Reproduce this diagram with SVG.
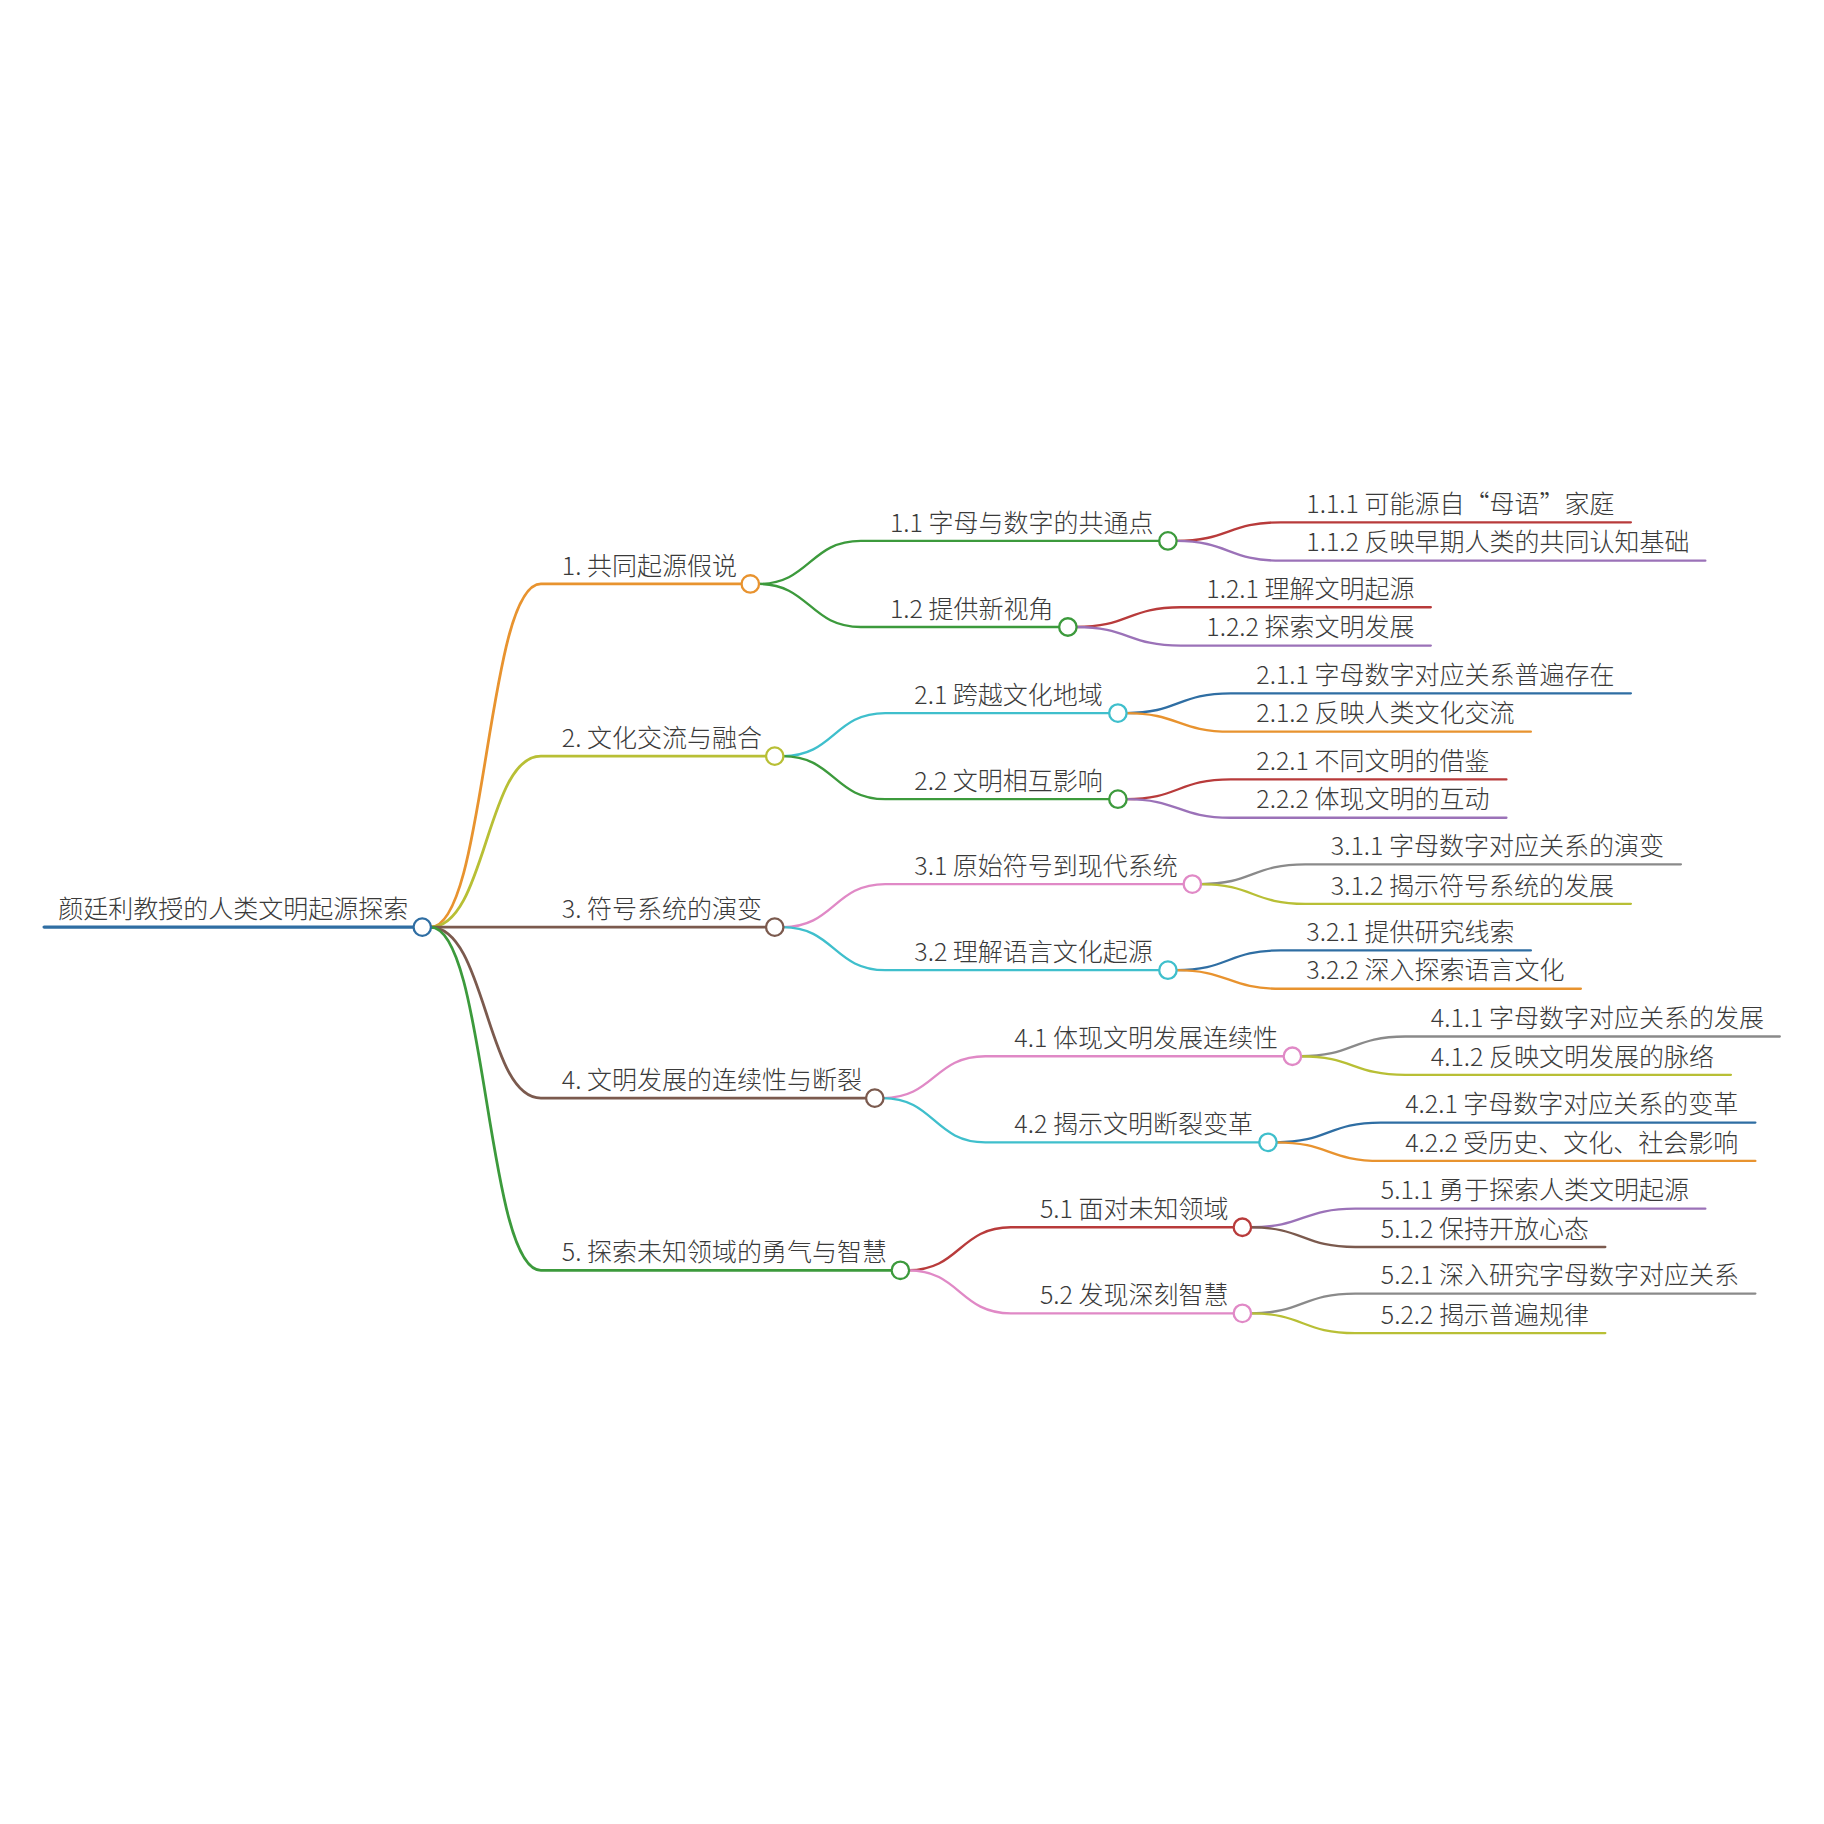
<svg xmlns="http://www.w3.org/2000/svg" width="1824" height="1824" viewBox="0 0 1824 1824">
<style>
text{font-family:"Noto Sans CJK SC","Noto Sans",sans-serif;font-size:21.5px;font-weight:300;fill:#3a3a3a}
.c{fill:none;stroke-width:2;stroke-linecap:round}
.r{stroke-width:3}
.l1{stroke-width:2.4}
.n{fill:#fff;stroke-width:2}
.bl{stroke:#2f6ea3}.or{stroke:#e8932f}.yg{stroke:#b8bf35}.br{stroke:#7b5a4e}.gn{stroke:#3c9a3c}
.cy{stroke:#3fbfcc}.pk{stroke:#e089c6}.rd{stroke:#b83b3b}.pu{stroke:#9b72b8}.gy{stroke:#8a8a8a}
</style>
<rect width="1824" height="1824" fill="#fff"/>
<g transform="scale(1.163265)">
<g id="connectors">
<path class="c r bl" d="M38 797H356"/>
<path class="c l1 or" d="M370 797C418 797 418 502 465 502H638"/>
<path class="c l1 yg" d="M370 797C418 797 418 650 465 650H659"/>
<path class="c l1 br" d="M370 797H659"/>
<path class="c l1 br" d="M370 797C418 797 418 944 465 944H745"/>
<path class="c l1 gn" d="M370 797C418 797 418 1092 465 1092H767"/>
<path class="c gn" d="M652 502C696 502 696 465 740 465H997"/>
<path class="c gn" d="M652 502C696 502 696 539 740 539H911"/>
<path class="c cy" d="M673 650C717 650 717 613 761 613H954"/>
<path class="c gn" d="M673 650C717 650 717 687 761 687H954"/>
<path class="c pk" d="M673 797C717 797 717 760 761 760H1018"/>
<path class="c cy" d="M673 797C717 797 717 834 761 834H997"/>
<path class="c pk" d="M759 944C803 944 803 908 847 908H1104"/>
<path class="c cy" d="M759 944C803 944 803 982 847 982H1083"/>
<path class="c rd" d="M781 1092C825 1092 825 1055 869 1055H1061"/>
<path class="c pk" d="M781 1092C825 1092 825 1129 869 1129H1061"/>
<path class="c rd" d="M1011 465C1056 465 1056 449 1101 449H1402"/>
<path class="c pu" d="M1011 465C1056 465 1056 482 1101 482H1466"/>
<path class="c rd" d="M925 539C970 539 970 522 1015 522H1230"/>
<path class="c pu" d="M925 539C970 539 970 555 1015 555H1230"/>
<path class="c bl" d="M968 613C1013 613 1013 596 1058 596H1402"/>
<path class="c or" d="M968 613C1013 613 1013 629 1058 629H1316"/>
<path class="c rd" d="M968 687C1013 687 1013 670 1058 670H1295"/>
<path class="c pu" d="M968 687C1013 687 1013 703 1058 703H1295"/>
<path class="c gy" d="M1032 760C1077 760 1077 743 1122 743H1445"/>
<path class="c yg" d="M1032 760C1077 760 1077 777 1122 777H1402"/>
<path class="c bl" d="M1011 834C1056 834 1056 817 1101 817H1316"/>
<path class="c or" d="M1011 834C1056 834 1056 850 1101 850H1359"/>
<path class="c gy" d="M1118 908C1163 908 1163 891 1208 891H1530"/>
<path class="c yg" d="M1118 908C1163 908 1163 924 1208 924H1488"/>
<path class="c bl" d="M1097 982C1142 982 1142 965 1187 965H1509"/>
<path class="c or" d="M1097 982C1142 982 1142 998 1187 998H1509"/>
<path class="c pu" d="M1075 1055C1120 1055 1120 1039 1165 1039H1466"/>
<path class="c br" d="M1075 1055C1120 1055 1120 1072 1165 1072H1380"/>
<path class="c gy" d="M1075 1129C1120 1129 1120 1112 1165 1112H1509"/>
<path class="c yg" d="M1075 1129C1120 1129 1120 1146 1165 1146H1380"/>
</g>
<g id="root"><text x="50" y="789">颜廷利教授的人类文明起源探索</text><circle class="n bl" cx="363" cy="797" r="7.5"/></g>
<g id="n1"><text x="483" y="494">1. 共同起源假说</text><circle class="n or" cx="645" cy="502" r="7.5"/></g>
<g id="n2"><text x="483" y="642">2. 文化交流与融合</text><circle class="n yg" cx="666" cy="650" r="7.5"/></g>
<g id="n3"><text x="483" y="789">3. 符号系统的演变</text><circle class="n br" cx="666" cy="797" r="7.5"/></g>
<g id="n4"><text x="483" y="936">4. 文明发展的连续性与断裂</text><circle class="n br" cx="752" cy="944" r="7.5"/></g>
<g id="n5"><text x="483" y="1084">5. 探索未知领域的勇气与智慧</text><circle class="n gn" cx="774" cy="1092" r="7.5"/></g>
<g id="n1_1"><text x="765" y="457">1.1 字母与数字的共通点</text><circle class="n gn" cx="1004" cy="465" r="7.5"/></g>
<g id="n1_2"><text x="765" y="531">1.2 提供新视角</text><circle class="n gn" cx="918" cy="539" r="7.5"/></g>
<g id="n2_1"><text x="786" y="605">2.1 跨越文化地域</text><circle class="n cy" cx="961" cy="613" r="7.5"/></g>
<g id="n2_2"><text x="786" y="679">2.2 文明相互影响</text><circle class="n gn" cx="961" cy="687" r="7.5"/></g>
<g id="n3_1"><text x="786" y="752">3.1 原始符号到现代系统</text><circle class="n pk" cx="1025" cy="760" r="7.5"/></g>
<g id="n3_2"><text x="786" y="826">3.2 理解语言文化起源</text><circle class="n cy" cx="1004" cy="834" r="7.5"/></g>
<g id="n4_1"><text x="872" y="900">4.1 体现文明发展连续性</text><circle class="n pk" cx="1111" cy="908" r="7.5"/></g>
<g id="n4_2"><text x="872" y="974">4.2 揭示文明断裂变革</text><circle class="n cy" cx="1090" cy="982" r="7.5"/></g>
<g id="n5_1"><text x="894" y="1047">5.1 面对未知领域</text><circle class="n rd" cx="1068" cy="1055" r="7.5"/></g>
<g id="n5_2"><text x="894" y="1121">5.2 发现深刻智慧</text><circle class="n pk" cx="1068" cy="1129" r="7.5"/></g>
<g id="n1_1_1"><text x="1123" y="441">1.1.1 可能源自“母语”家庭</text></g>
<g id="n1_1_2"><text x="1123" y="474">1.1.2 反映早期人类的共同认知基础</text></g>
<g id="n1_2_1"><text x="1037" y="514">1.2.1 理解文明起源</text></g>
<g id="n1_2_2"><text x="1037" y="547">1.2.2 探索文明发展</text></g>
<g id="n2_1_1"><text x="1080" y="588">2.1.1 字母数字对应关系普遍存在</text></g>
<g id="n2_1_2"><text x="1080" y="621">2.1.2 反映人类文化交流</text></g>
<g id="n2_2_1"><text x="1080" y="662">2.2.1 不同文明的借鉴</text></g>
<g id="n2_2_2"><text x="1080" y="695">2.2.2 体现文明的互动</text></g>
<g id="n3_1_1"><text x="1144" y="735">3.1.1 字母数字对应关系的演变</text></g>
<g id="n3_1_2"><text x="1144" y="769">3.1.2 揭示符号系统的发展</text></g>
<g id="n3_2_1"><text x="1123" y="809">3.2.1 提供研究线索</text></g>
<g id="n3_2_2"><text x="1123" y="842">3.2.2 深入探索语言文化</text></g>
<g id="n4_1_1"><text x="1230" y="883">4.1.1 字母数字对应关系的发展</text></g>
<g id="n4_1_2"><text x="1230" y="916">4.1.2 反映文明发展的脉络</text></g>
<g id="n4_2_1"><text x="1208" y="957">4.2.1 字母数字对应关系的变革</text></g>
<g id="n4_2_2"><text x="1208" y="990">4.2.2 受历史、文化、社会影响</text></g>
<g id="n5_1_1"><text x="1187" y="1031">5.1.1 勇于探索人类文明起源</text></g>
<g id="n5_1_2"><text x="1187" y="1064">5.1.2 保持开放心态</text></g>
<g id="n5_2_1"><text x="1187" y="1104">5.2.1 深入研究字母数字对应关系</text></g>
<g id="n5_2_2"><text x="1187" y="1138">5.2.2 揭示普遍规律</text></g>
</g>
</svg>
